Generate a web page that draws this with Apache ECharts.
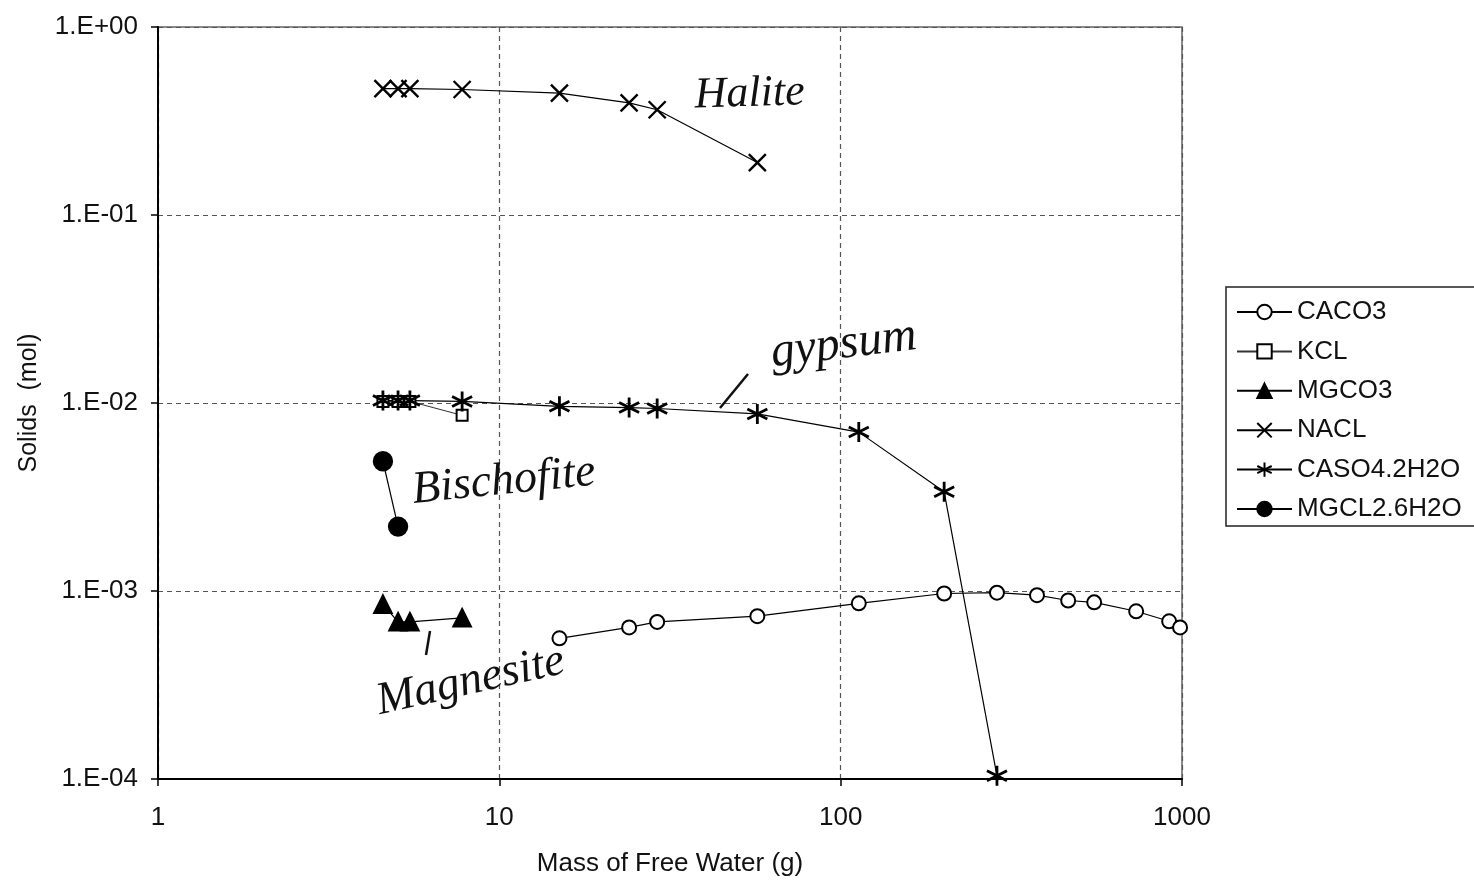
<!DOCTYPE html>
<html>
<head>
<meta charset="utf-8">
<script src="https://cdn.jsdelivr.net/npm/echarts@6/dist/echarts.min.js"></script>
<style>
  html, body { margin: 0; padding: 0; background: #fff; }
  #chart { width: 1474px; height: 882px; }
</style>
</head>
<body>
<div id="chart"></div>
<script>
// Mass of free water (g) at each evaporation step
const waterCaco3 = [15, 24, 29, 57, 113, 201, 287, 376, 464, 553, 734, 917, 987];
const caco3 = [5.6e-4, 6.4e-4, 6.85e-4, 7.35e-4, 8.6e-4, 9.7e-4, 9.8e-4, 9.5e-4, 8.9e-4, 8.7e-4, 7.8e-4, 6.9e-4, 6.4e-4];

const waterKcl = [4.56, 5.05, 5.47, 7.78];
const kcl = [1.02e-2, 1.02e-2, 1.02e-2, 8.6e-3];

const waterMgco3 = [4.56, 5.05, 5.47, 7.78];
const mgco3 = [8.5e-4, 6.85e-4, 6.85e-4, 7.2e-4];

const waterNacl = [4.56, 5.05, 5.47, 7.78, 15, 24, 29, 57];
const nacl = [0.47, 0.47, 0.47, 0.465, 0.445, 0.395, 0.363, 0.19];

const waterCaso4 = [4.56, 5.05, 5.47, 7.78, 15, 24, 29, 57, 113, 201, 287];
const caso4 = [1.03e-2, 1.03e-2, 1.03e-2, 1.02e-2, 9.6e-3, 9.45e-3, 9.35e-3, 8.75e-3, 7.0e-3, 3.37e-3, 1.04e-4];

const waterMgcl2 = [4.56, 5.05];
const mgcl2 = [4.9e-3, 2.2e-3];

const seriesNames = ['CACO3', 'KCL', 'MGCO3', 'NACL', 'CASO4.2H2O', 'MGCL2.6H2O'];
const xTickLabels = { '0': '1', '1': '10', '2': '100', '3': '1000' };
const yTickLabels = { '0': '1.E+00', '-1': '1.E-01', '-2': '1.E-02', '-3': '1.E-03', '-4': '1.E-04' };

const pairs = (xs, ys) => xs.map((x, i) => [x, ys[i]]);
const decade = v => String(Math.round(Math.log10(v)));

const FONT = '"Liberation Sans", Arial, sans-serif';
const HAND = '"Liberation Serif", serif';

const crossPath = 'path://M0,0L20,20M20,0L0,20';
const starPath = 'path://M10,0L10,20M1.3,5L18.7,15M1.3,15L18.7,5';

function makeSeries(name, data, symbol, size, opts) {
  return Object.assign({
    name: name,
    type: 'line',
    data: data,
    symbol: symbol,
    symbolSize: size,
    showAllSymbol: true,
    lineStyle: { color: '#000', width: 1.2 },
    itemStyle: { color: '#000', borderColor: '#000', borderWidth: 2.4 },
    emphasis: { disabled: true },
    animation: false,
    z: 3
  }, opts || {});
}

const chart = echarts.init(document.getElementById('chart'));

chart.setOption({
  backgroundColor: '#fff',
  animation: false,
  grid: {
    left: 158, right: 292, top: 27, bottom: 100,
    show: true, borderColor: '#666', borderWidth: 1.5, backgroundColor: '#fff'
  },
  xAxis: {
    type: 'log', logBase: 10, min: 1, max: 1000,
    name: 'Mass of Free Water (g)', nameLocation: 'middle', nameGap: 72,
    nameTextStyle: { fontFamily: FONT, fontSize: 26, color: '#111' },
    axisLine: { show: true, lineStyle: { color: '#000', width: 2 } },
    axisTick: { show: true, length: 7, lineStyle: { color: '#000', width: 1.5 } },
    axisLabel: {
      fontFamily: FONT, fontSize: 26, color: '#111', margin: 26,
      formatter: v => xTickLabels[decade(v)] || ''
    },
    splitLine: { show: true, lineStyle: { color: '#555', type: [5, 4], width: 1.2 } },
    minorTick: { show: false }
  },
  yAxis: {
    type: 'log', logBase: 10, min: 1e-4, max: 1,
    name: 'Solids  (mol)', nameLocation: 'middle', nameGap: 116,
    nameTextStyle: { fontFamily: FONT, fontSize: 25, color: '#111' },
    axisLine: { show: true, lineStyle: { color: '#000', width: 2 } },
    axisTick: { show: true, length: 7, lineStyle: { color: '#000', width: 1.5 } },
    axisLabel: {
      fontFamily: FONT, fontSize: 26, color: '#111', margin: 20,
      formatter: v => yTickLabels[decade(v)] || ''
    },
    splitLine: { show: true, lineStyle: { color: '#555', type: [5, 4], width: 1.2 } }
  },
  legend: {
    data: seriesNames,
    orient: 'vertical',
    left: 1226, top: 287,
    padding: [12, 40, 4, 10],
    itemGap: 13.4,
    itemWidth: 55, itemHeight: 18,
    backgroundColor: '#fff',
    borderColor: '#222', borderWidth: 1.5, borderRadius: 0,
    textStyle: { fontFamily: FONT, fontSize: 26, color: '#111', padding: [0, 0, 0, 0] },
    selectedMode: false
  },
  series: [
    makeSeries(seriesNames[0], pairs(waterCaco3, caco3), 'emptyCircle', 14,
      { itemStyle: { color: '#000', borderColor: '#000', borderWidth: 2.6 } }),
    makeSeries(seriesNames[1], pairs(waterKcl, kcl), 'emptyRect', 11,
      { itemStyle: { color: '#000', borderColor: '#000', borderWidth: 1.6 }, lineStyle: { color: '#333', width: 1 } }),
    makeSeries(seriesNames[2], pairs(waterMgco3, mgco3), 'triangle', 17),
    makeSeries(seriesNames[3], pairs(waterNacl, nacl), crossPath, 17),
    makeSeries(seriesNames[4], pairs(waterCaso4, caso4), starPath, 20,
      { itemStyle: { color: '#000', borderColor: '#000', borderWidth: 2.8 } }),
    makeSeries(seriesNames[5], pairs(waterMgcl2, mgcl2), 'circle', 18)
  ],
  graphic: [
    { type: 'text', x: 694, y: 74, rotation: 0.03, style: { text: 'Halite', fontFamily: HAND, fontStyle: 'italic', fontSize: 44, fill: '#111' }, z: 10 },
    { type: 'text', x: 768, y: 330, rotation: 0.12, style: { text: 'gypsum', fontFamily: HAND, fontStyle: 'italic', fontSize: 48, fill: '#111' }, z: 10 },
    { type: 'line', shape: { x1: 720, y1: 408, x2: 748, y2: 374 }, style: { stroke: '#111', lineWidth: 2.5 }, z: 10 },
    { type: 'text', x: 410, y: 468, rotation: 0.1, style: { text: 'Bischofite', fontFamily: HAND, fontStyle: 'italic', fontSize: 46, fill: '#111' }, z: 10 },
    { type: 'text', x: 372, y: 680, rotation: 0.22, style: { text: 'Magnesite', fontFamily: HAND, fontStyle: 'italic', fontSize: 46, fill: '#111' }, z: 10 },
    { type: 'line', shape: { x1: 430, y1: 631, x2: 426, y2: 655 }, style: { stroke: '#111', lineWidth: 2.5 }, z: 10 }
  ]
});
</script>
</body>
</html>
